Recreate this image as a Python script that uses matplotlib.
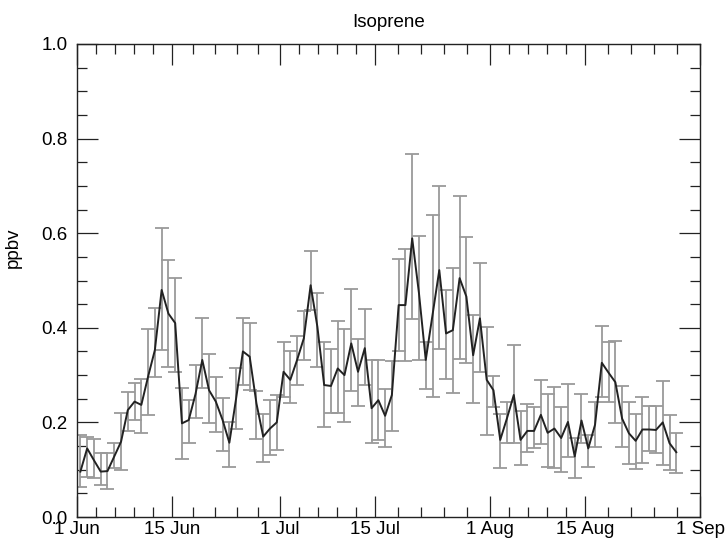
import numpy as np
import pandas as pd
import matplotlib
matplotlib.use('Agg')
import matplotlib.pyplot as plt
import matplotlib.dates as mdates

# daily mean isoprene (ppbv), 1 Jun .. 29 Aug, with lower / upper error bar ends
start_date = '2013-06-01 12:00'
isoprene = [
    0.096, 0.145, 0.120, 0.096, 0.097, 0.128, 0.159, 0.226, 0.244, 0.237,
    0.297, 0.353, 0.480, 0.430, 0.410, 0.198, 0.205, 0.260, 0.332, 0.268,
    0.244, 0.205, 0.157, 0.251, 0.350, 0.339, 0.240, 0.170, 0.187, 0.200,
    0.307, 0.290, 0.332, 0.378, 0.490, 0.402, 0.279, 0.277, 0.314, 0.300,
    0.367, 0.307, 0.357, 0.230, 0.247, 0.214, 0.258, 0.448, 0.448, 0.589,
    0.473, 0.332, 0.427, 0.522, 0.388, 0.395, 0.505, 0.466, 0.342, 0.420,
    0.290, 0.268, 0.163, 0.209, 0.258, 0.163, 0.182, 0.182, 0.216, 0.178,
    0.187, 0.167, 0.201, 0.128, 0.204, 0.145, 0.195, 0.326, 0.305, 0.285,
    0.208, 0.177, 0.161, 0.185, 0.185, 0.184, 0.200, 0.156, 0.137,
]
err_low = [
    0.063, 0.085, 0.083, 0.068, 0.059, 0.103, 0.100, 0.182, 0.205, 0.177,
    0.216, 0.297, 0.353, 0.318, 0.307, 0.122, 0.157, 0.209, 0.272, 0.198,
    0.180, 0.140, 0.106, 0.187, 0.279, 0.268, 0.164, 0.117, 0.131, 0.142,
    0.254, 0.242, 0.280, 0.332, 0.438, 0.318, 0.191, 0.219, 0.219, 0.200,
    0.267, 0.235, 0.279, 0.157, 0.163, 0.149, 0.182, 0.350, 0.330, 0.418,
    0.332, 0.270, 0.254, 0.355, 0.291, 0.263, 0.335, 0.326, 0.242, 0.307,
    0.173, 0.233, 0.103, 0.156, 0.156, 0.110, 0.137, 0.145, 0.154, 0.105,
    0.103, 0.096, 0.126, 0.082, 0.157, 0.106, 0.147, 0.254, 0.244, 0.198,
    0.147, 0.113, 0.101, 0.115, 0.140, 0.135, 0.110, 0.099, 0.092,
]
err_high = [
    0.173, 0.170, 0.164, 0.135, 0.135, 0.157, 0.219, 0.265, 0.283, 0.291,
    0.397, 0.441, 0.610, 0.543, 0.505, 0.272, 0.247, 0.321, 0.420, 0.344,
    0.297, 0.251, 0.200, 0.316, 0.420, 0.411, 0.267, 0.218, 0.247, 0.257,
    0.369, 0.351, 0.383, 0.436, 0.562, 0.474, 0.371, 0.355, 0.414, 0.397,
    0.482, 0.376, 0.439, 0.332, 0.332, 0.270, 0.330, 0.545, 0.566, 0.767,
    0.594, 0.371, 0.638, 0.700, 0.480, 0.526, 0.679, 0.591, 0.427, 0.536,
    0.401, 0.298, 0.218, 0.244, 0.364, 0.225, 0.238, 0.233, 0.290, 0.260,
    0.274, 0.233, 0.281, 0.166, 0.260, 0.173, 0.244, 0.404, 0.371, 0.373,
    0.277, 0.244, 0.218, 0.254, 0.235, 0.234, 0.288, 0.216, 0.178,
]

tick_dates = ['2013-06-01', '2013-06-15', '2013-07-01', '2013-07-15',
              '2013-08-01', '2013-08-15', '2013-09-01']
tick_labels = ['1 Jun', '15 Jun', '1 Jul', '15 Jul', '1 Aug', '15 Aug', '1 Sep']

plt.rcParams['font.family'] = ['Liberation Sans', 'DejaVu Sans']

dates = pd.date_range(start_date, periods=len(isoprene), freq='D')
vals = np.array(isoprene)
yerr = np.vstack([vals - np.array(err_low), np.array(err_high) - vals])

fig = plt.figure(figsize=(7.25, 5.43), dpi=100)
ax = fig.add_axes([77 / 725, 1 - 517 / 543, 623 / 725, 473 / 543])

ax.errorbar(dates, vals, yerr=yerr, fmt='none', ecolor='#9a9a9a',
            elinewidth=1.3, capsize=5, capthick=1.3, zorder=2)
ax.plot(dates, vals, color='#222222', lw=1.4, zorder=3)

# x axis: dates, 5 minor intervals between labelled dates
major = mdates.date2num(pd.to_datetime(tick_dates))
minor = np.concatenate([np.linspace(a, b, 6)[1:-1] for a, b in zip(major[:-1], major[1:])])
ax.set_xlim(major[0], major[-1])
ax.set_xticks(major)
ax.set_xticklabels(tick_labels)
ax.set_xticks(minor, minor=True)

ax.set_ylim(0, 1.0)
ax.set_yticks(np.arange(0, 1.01, 0.2))
ax.set_yticklabels(['%.1f' % v for v in np.arange(0, 1.01, 0.2)])
ax.set_yticks(np.arange(0, 1.001, 0.05), minor=True)

ax.tick_params(which='both', direction='in', top=True, right=True,
               labelsize=13.5, color='#222222', width=0.9)
ax.tick_params(which='major', length=15)
ax.tick_params(which='minor', length=7)
ax.tick_params(axis='x', pad=3)
ax.tick_params(axis='y', pad=7)
for sp in ax.spines.values():
    sp.set_linewidth(1.0)
    sp.set_color('#222222')

ax.set_title('Isoprene', fontsize=13.5, pad=12)
ax.set_ylabel('ppbv', fontsize=13.5)
ax.yaxis.set_label_coords(-0.088, 0.57)

fig.savefig('out.png', dpi=100)
